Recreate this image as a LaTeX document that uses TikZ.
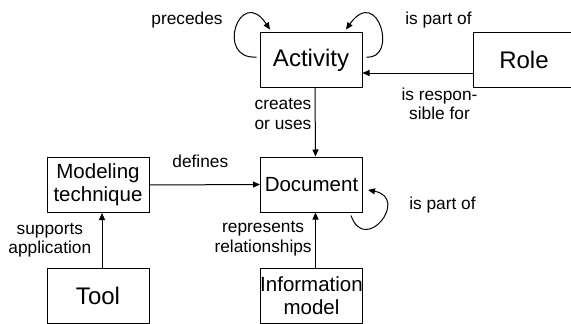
\documentclass[tikz,border=0pt]{standalone}
\usepackage{fontspec}
\setmainfont{Liberation Sans}
\usetikzlibrary{arrows.meta}

\begin{document}
\begin{tikzpicture}[x=1pt, y=-1pt, line width=1pt,
  box/.style={draw, minimum width=102pt, minimum height=55pt, inner sep=0pt, align=center},
  big/.style={font=\fontsize{24}{26}\selectfont},
  small/.style={font=\fontsize{20.5}{23}\selectfont},
  lbl/.style={font=\fontsize{17.3}{19.5}\selectfont, align=center},
  rel/.style={-{Triangle[length=7pt, width=6pt]}}]
  \useasboundingbox (0,0) rectangle (571,324);
  % Boxes
  \node[box, big] (act) at (311,60) {Activity};
  \node[box, big] (role) at (524,60) {Role};
  \node[box, small] (doc) at (311.5,184.5) {Document};
  \node[box, small] (tech) at (98,185) {Modeling\\technique};
  \node[box, big] (tool) at (98,295.5) {Tool};
  \node[box, small] (info) at (311.5,295.5) {Information\\model};
  % Relations between boxes
  \draw[rel] ([yshift=-13pt]role.west) -- ([yshift=-13pt]act.east)
    node[lbl, below=11pt, pos=0.3] {is respon-\\sible for};
  \draw[rel] ([xshift=4pt]act.south) -- ([xshift=4pt]doc.north)
    node[lbl, left, pos=0.38] {creates\\or uses};
  \draw[rel] (tech.east) -- (doc.west)
    node[lbl, above=13pt, pos=0.46] {defines};
  \draw[rel] ([xshift=4pt]tool.north) -- ([xshift=4pt]tech.south)
    node[lbl, left=7pt, pos=0.5] {supports\\application};
  \draw[rel] ([xshift=4pt]info.north) -- ([xshift=4pt]doc.south)
    node[lbl, left, pos=0.52] {represents\\relationships};
  % Self relations
  \draw[rel] ([xshift=-3pt,yshift=3pt]act.west) .. controls +(-42,3) and +(-30,-45) .. ([xshift=-41pt,yshift=2.5pt]act.north);
  \draw[rel] ([xshift=4pt,yshift=3pt]act.east) .. controls +(32,3) and +(32,-45) .. ([xshift=35pt,yshift=2.5pt]act.north);
  \draw[rel] ([xshift=39.5pt,yshift=-3pt]doc.south) .. controls +(14,40) and +(42,8) .. ([xshift=5pt,yshift=-5.5pt]doc.east);
  \node[lbl] (precedes) at (187,20.5) {precedes};
  \node[lbl] (actpart) at (438.5,20.5) {is part of};
  \node[lbl] (docpart) at (442.5,205.5) {is part of};
\end{tikzpicture}
\end{document}
